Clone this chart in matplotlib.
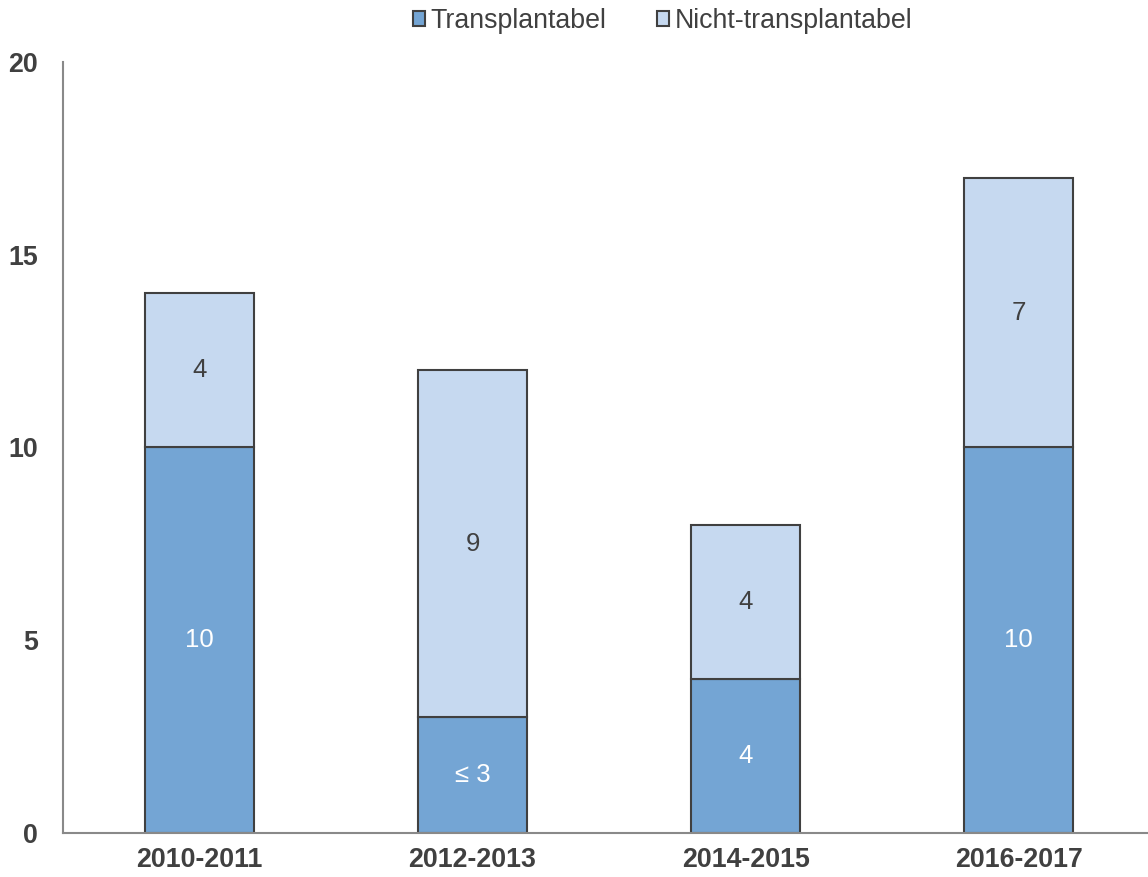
import numpy as np
import matplotlib.pyplot as plt

plt.rcParams["font.family"] = ["Liberation Sans", "DejaVu Sans"]

periods = ["2010-2011", "2012-2013", "2014-2015", "2016-2017"]
transplantabel = [10, 3, 4, 10]
nicht_transplantabel = [4, 9, 4, 7]
label_transplantabel = ["10", "≤ 3", "4", "10"]
label_nicht = ["4", "9", "4", "7"]

dark_blue = "#74A5D4"
light_blue = "#C6D9F0"
edge = "#404040"
grey_text = "#404040"

fig = plt.figure(figsize=(11.48, 8.77), dpi=100)
ax = fig.add_axes([0.0549, 0.0502, 0.9451, 0.8791])

x = np.arange(len(periods))
b1 = ax.bar(x, transplantabel, width=0.4, color=dark_blue, edgecolor=edge,
            linewidth=1.5, label="Transplantabel")
b2 = ax.bar(x, nicht_transplantabel, width=0.4, bottom=transplantabel,
            color=light_blue, edgecolor=edge, linewidth=1.5,
            label="Nicht-transplantabel")

for i in range(len(periods)):
    ax.text(x[i], transplantabel[i] / 2, label_transplantabel[i],
            ha="center", va="center", fontsize=18.5, color="white")
    ax.text(x[i], transplantabel[i] + nicht_transplantabel[i] / 2, label_nicht[i],
            ha="center", va="center", fontsize=18.5, color=grey_text)

ax.set_xlim(-0.5, 3.474)
ax.set_ylim(0, 20)
ax.set_yticks([0, 5, 10, 15, 20])
ax.set_xticks(x)
ax.set_xticklabels(periods)
ax.tick_params(axis="both", length=0, labelsize=19.3, colors=grey_text)
ax.tick_params(axis="y", pad=18)
ax.tick_params(axis="x", pad=10)
for lab in ax.get_xticklabels() + ax.get_yticklabels():
    lab.set_fontweight("bold")

for s in ["top", "right"]:
    ax.spines[s].set_visible(False)
ax.spines["left"].set_color("#898989")
ax.spines["bottom"].set_color("#898989")
ax.spines["left"].set_linewidth(1.5)
ax.spines["bottom"].set_linewidth(1.5)

fig.legend(handles=[b1, b2], loc="center", bbox_to_anchor=(0.577, 0.976),
           ncol=2, frameon=False, fontsize=19.3, handlelength=0.45,
           handleheight=0.45, handletextpad=0.2, columnspacing=1.9,
           labelcolor=grey_text)

plt.savefig("out.png", dpi=100)
